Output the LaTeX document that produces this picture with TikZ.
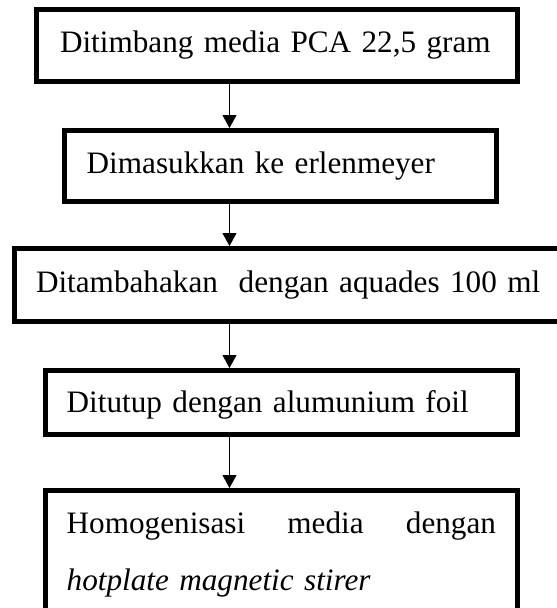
\documentclass[tikz,border=0pt]{standalone}
\usepackage{fontspec}
\setmainfont{Liberation Serif}
\usetikzlibrary{arrows.meta}
\begin{document}
\begin{tikzpicture}[x=1pt,y=-1pt,
        kotak/.style={draw, line width=5pt, rectangle, align=left,
            font=\fontsize{31.2}{48}\selectfont, text height=22pt, text depth=8pt},
        panah/.style={-{Triangle[length=13pt,width=14pt]}, line width=1pt}]
                \useasboundingbox (0,0) rectangle (557,608);
                \clip (0,0) rectangle (557,608);

                % Kotak langkah
                \node[kotak, text width=434pt, inner xsep=23.5pt, minimum height=72pt] (timbang) at (277,45.5) {Ditimbang media PCA 22,5 gram};
                \node[kotak, text width=387.6pt, inner xsep=22.2pt, minimum height=71pt] (masuk) at (280.5,166) {Dimasukkan ke erlenmeyer};
                \node[kotak, text width=522.2pt, inner xsep=21.8pt, minimum height=73pt] (tambah) at (297.1,285) {Ditambahakan~ dengan aquades 100 ml};
                \node[kotak, text width=429.3pt, inner xsep=21.5pt, minimum height=63.7pt, text depth=1pt] (tutup) at (281.35,402.35) {Ditutup dengan alumunium foil};
                \node[kotak, text width=429.3pt, inner xsep=21.5pt, minimum height=120pt, text depth=56pt] (homogen) at (281.35,550.5) {Homogenisasi\hfill media\hfill dengan\\[9pt] \textit{hotplate magnetic stirer}};

                % Panah
                \coordinate (sumbu) at (229.5,0);
                \draw[panah] (timbang.south -| sumbu) -- (masuk.north -| sumbu);
                \draw[panah] (masuk.south -| sumbu) -- (tambah.north -| sumbu);
                \draw[panah] (tambah.south -| sumbu) -- (tutup.north -| sumbu);
                \draw[panah] (tutup.south -| sumbu) -- (homogen.north -| sumbu);

            \end{tikzpicture}
\end{document}
